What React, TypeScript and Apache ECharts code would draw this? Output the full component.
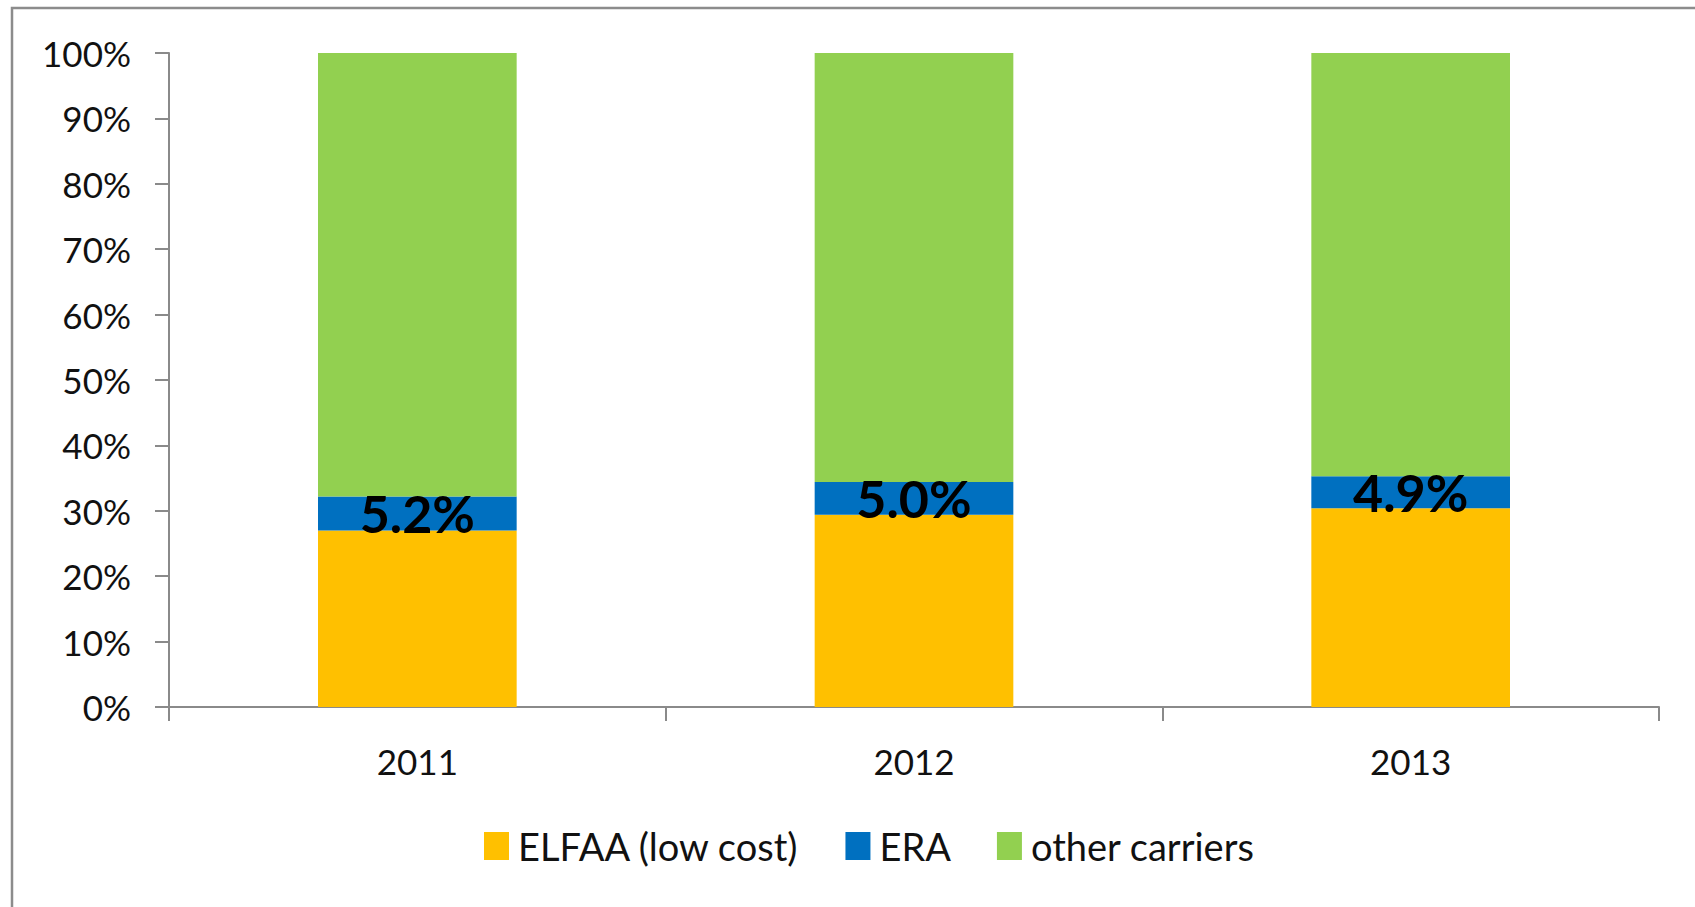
import React, { useEffect, useRef } from "react";
import * as echarts from "echarts";

const categories = ["2011", "2012", "2013"];
const elfaa = [27.0, 29.4, 30.4];
const era = [5.2, 5.0, 4.9];
const other = [67.8, 65.6, 64.7];
const yTicks = [0, 10, 20, 30, 40, 50, 60, 70, 80, 90, 100];

const FONT = "Lato, 'Noto Sans', sans-serif";

export default function App() {
  const ref = useRef<HTMLDivElement>(null);
  useEffect(() => {
    if (!ref.current) return;
    const chart = echarts.init(ref.current, undefined, { renderer: "svg" });
    const axisColor = "#8a8a8a";
    chart.setOption({
      animation: false,
      backgroundColor: "#ffffff",
      textStyle: { fontFamily: FONT },
      graphic: [
        {
          type: "rect",
          shape: { x: 12, y: 8, width: 2000, height: 2000 },
          style: { fill: "none", stroke: "#8c8c8c", lineWidth: 2.5 },
          silent: true,
        },
      ],
      grid: { left: 169, right: 36, top: 53, bottom: 200, containLabel: false },
      legend: {
        top: 822,
        left: 479,
        itemWidth: 25,
        itemHeight: 28,
        itemGap: 46,
        icon: "rect",
        textStyle: { fontFamily: FONT, fontSize: 38, color: "#111", padding: [0, 0, 0, 4] },
        data: ["ELFAA (low cost)", "ERA", "other carriers"],
      },
      xAxis: {
        type: "category",
        data: categories,
        axisLine: { show: true, lineStyle: { color: axisColor, width: 2 } },
        axisTick: { show: true, length: 14, inside: false, lineStyle: { color: axisColor, width: 2 } },
        axisLabel: { fontFamily: FONT, fontSize: 35, color: "#111", margin: 36 },
        splitLine: { show: false },
      },
      yAxis: {
        type: "value",
        min: yTicks[0],
        max: yTicks[yTicks.length - 1],
        interval: 10,
        axisLine: { show: true, lineStyle: { color: axisColor, width: 2 } },
        axisTick: { show: true, length: 14, lineStyle: { color: axisColor, width: 2 } },
        axisLabel: {
          fontFamily: FONT,
          fontSize: 35,
          color: "#111",
          margin: 38,
          formatter: (v: number) => `${v}%`,
        },
        splitLine: { show: false },
      },
      series: [
        {
          name: "ELFAA (low cost)",
          type: "bar",
          stack: "s",
          barWidth: "40%",
          data: elfaa,
          itemStyle: { color: "#FFC000" },
        },
        {
          name: "ERA",
          type: "bar",
          stack: "s",
          data: era,
          itemStyle: { color: "#0070C0" },
          label: {
            show: true,
            position: "inside",
            fontFamily: FONT,
            fontWeight: "bold",
            fontSize: 52,
            color: "#000",
            formatter: (p: any) => `${Number(p.value).toFixed(1)}%`,
          },
        },
        {
          name: "other carriers",
          type: "bar",
          stack: "s",
          data: other,
          itemStyle: { color: "#92D050" },
        },
      ],
    });
    return () => chart.dispose();
  }, []);
  return <div ref={ref} style={{ width: 1695, height: 907, position: "absolute", left: 0, top: 0 }} />;
}
